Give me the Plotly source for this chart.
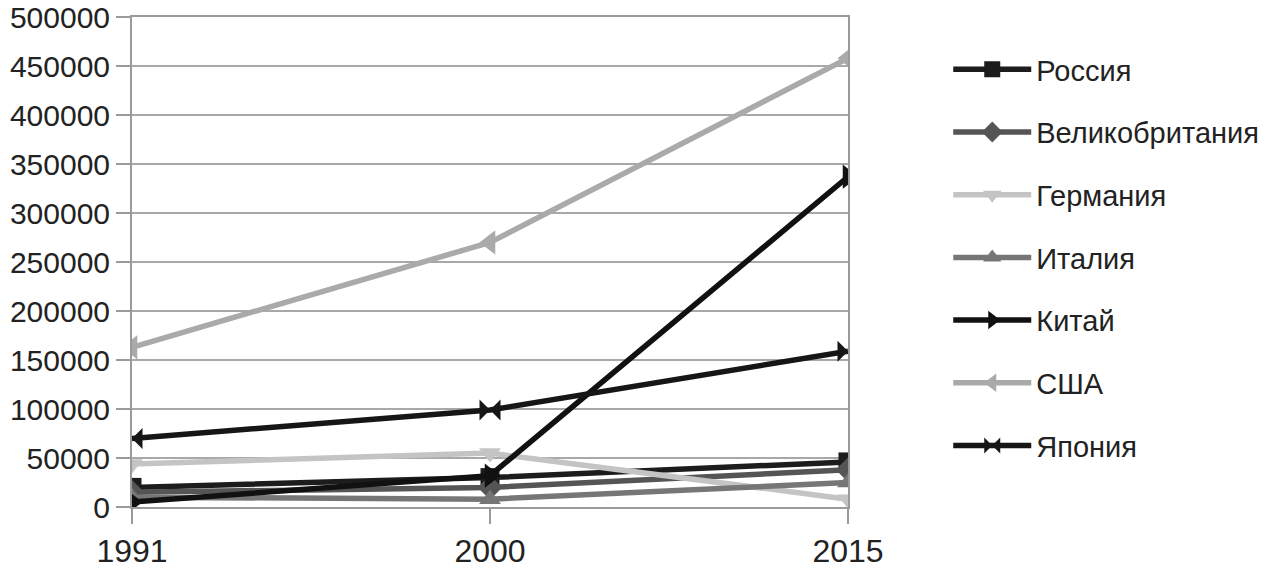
import plotly.graph_objects as go

years = ["1991", "2000", "2015"]
russia = [20000, 30000, 46000]
uk = [15000, 20000, 38000]
germany = [44000, 55000, 8000]
italy = [10000, 8000, 25000]
china = [5000, 32000, 337000]
usa = [163000, 270000, 458000]
japan = [70000, 99000, 159000]

series = [
    ("Россия", russia, "#1c1c1c", "square", 19),
    ("Великобритания", uk, "#555555", "diamond", 19),
    ("Германия", germany, "#c4c4c4", "triangle-down", 19),
    ("Италия", italy, "#767676", "triangle-up", 19),
    ("Китай", china, "#111111", "triangle-right", 21),
    ("США", usa, "#aaaaaa", "triangle-left", 21),
    ("Япония", japan, "#161616", "bowtie", 21),
]

fig = go.Figure()
for i, (name, vals, color, sym, size) in enumerate(series):
    fig.add_trace(go.Scatter(
        x=years, y=vals, name=name, mode="lines+markers",
        line=dict(color=color, width=5.5),
        marker=dict(symbol=sym, size=size, color=color),
        legendgroup=f"g{i}",
    ))

fig.update_layout(
    width=1281, height=581,
    margin=dict(l=132, r=433, t=17, b=74, autoexpand=False),
    paper_bgcolor="white", plot_bgcolor="white",
    font=dict(family="Liberation Sans, Arial, sans-serif", color="#222222", size=30),
    showlegend=True,
    legend=dict(x=1.14, xanchor="left", y=0.945, yanchor="top",
                font=dict(size=29), tracegroupgap=22, itemwidth=78,
                bgcolor="rgba(0,0,0,0)"),
    xaxis=dict(type="category", range=[0, 2], showgrid=False, automargin=False,
               showline=True, linecolor="#9a9a9a", linewidth=2, mirror=True,
               ticks="outside", ticklen=15, tickcolor="#9a9a9a", tickwidth=2,
               tickfont=dict(size=32), zeroline=False),
    yaxis=dict(range=[0, 500000], dtick=50000, showgrid=True, automargin=False,
               gridcolor="#a8a8a8", gridwidth=2, ticklabeloverflow="allow",
               showline=True, linecolor="#9a9a9a", linewidth=2, mirror=True,
               ticks="outside", ticklen=14, tickcolor="#9a9a9a", tickwidth=2,
               tickfont=dict(size=30), tickformat="d", zeroline=False),
)

fig.write_html("out.html", config={"displayModeBar": False},
               post_script="document.body.style.margin='0';")
